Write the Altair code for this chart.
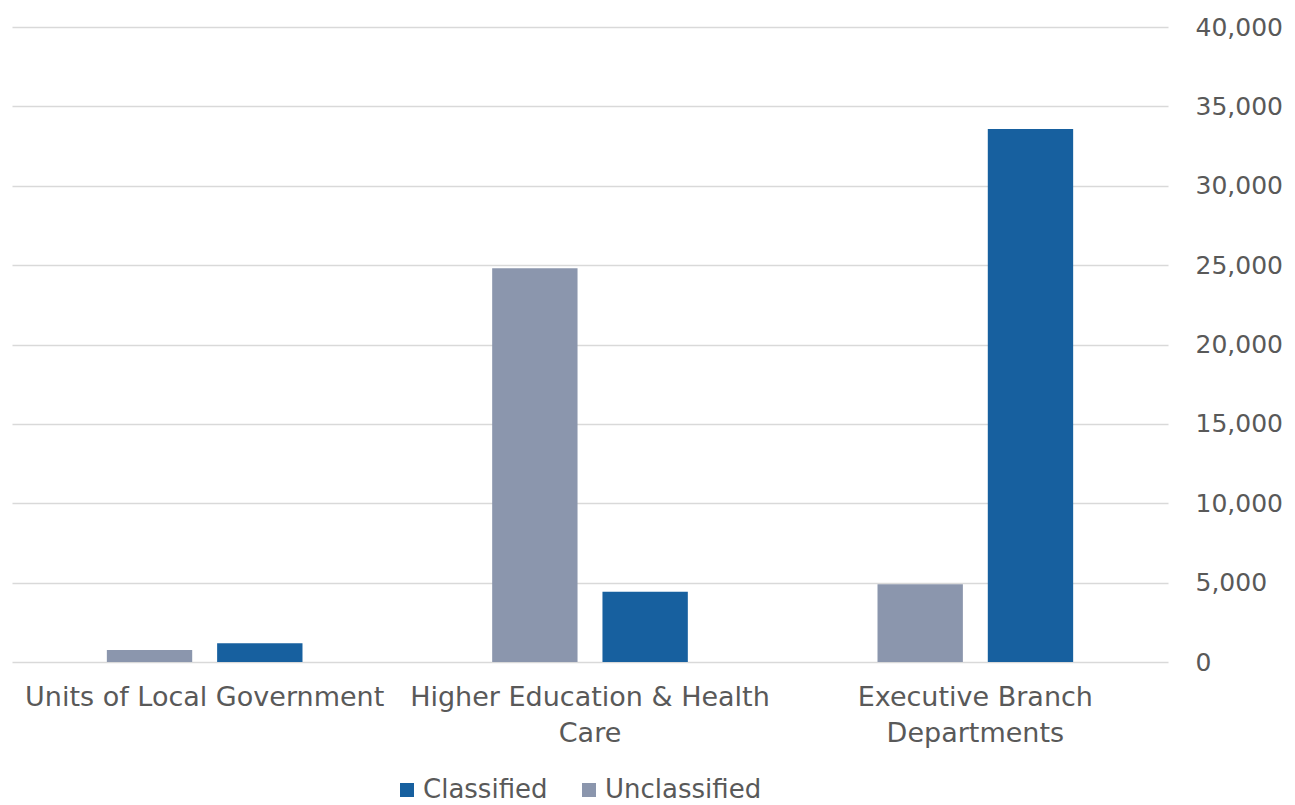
import altair as alt
import pandas as pd

categories = ["Units of Local Government", "Higher Education & Health Care", "Executive Branch Departments"]
unclassified = [750, 24800, 4900]
classified = [1180, 4430, 33570]

rows = []
for c, u, k in zip(categories, unclassified, classified):
    rows.append({"category": c, "type": "Unclassified", "value": u})
    rows.append({"category": c, "type": "Classified", "value": k})
df = pd.DataFrame(rows)

label_expr = ("datum.label == 'Higher Education & Health Care' ? ['Higher Education & Health', 'Care'] : "
              "datum.label == 'Executive Branch Departments' ? ['Executive Branch', 'Departments'] : datum.label")

FONT = "DejaVu Sans"
TXT = "#595959"

chart = alt.Chart(df).mark_bar().encode(
    x=alt.X("category:N", sort=categories, title=None,
            scale=alt.Scale(paddingInner=0, paddingOuter=0),
            axis=alt.Axis(labelAngle=0, labelFontSize=27, labelColor=TXT, labelFont=FONT,
                          labelPadding=22, ticks=False, domain=False, grid=False, labelExpr=label_expr,
                          labelLineHeight=36, labelBaseline="top", labelLimit=0)),
    xOffset=alt.XOffset("type:N", sort=["Unclassified", "Classified"],
                        scale=alt.Scale(paddingInner=0.226, paddingOuter=0.86)),
    y=alt.Y("value:Q", title=None,
            scale=alt.Scale(domain=[0, 40000], nice=False),
            axis=alt.Axis(orient="right", values=list(range(0, 40001, 5000)), format=",.0f",
                          labelFontSize=25, labelColor=TXT, labelFont=FONT,
                          labelAlign="left", labelPadding=27, ticks=False, domain=False,
                          gridColor="#d9d9d9", gridWidth=1.3)),
    color=alt.Color("type:N",
                    scale=alt.Scale(domain=["Classified", "Unclassified"], range=["#17609f", "#8b96ad"]),
                    legend=alt.Legend(title=None, orient="none", direction="horizontal",
                                      legendX=382, legendY=750, padding=0, symbolType="square",
                                      symbolSize=196, labelFontSize=26, labelColor=TXT, labelFont=FONT,
                                      columnPadding=28, labelOffset=3, symbolStrokeWidth=0)),
).properties(
    width=1156, height=635,
    background="white",
    autosize=alt.AutoSizeParams(type="none"),
    padding={"left": 12, "top": 27, "right": 127, "bottom": 143},
).configure_view(stroke=None)

chart.save("out.html", embed_options={"renderer": "svg", "actions": False})
